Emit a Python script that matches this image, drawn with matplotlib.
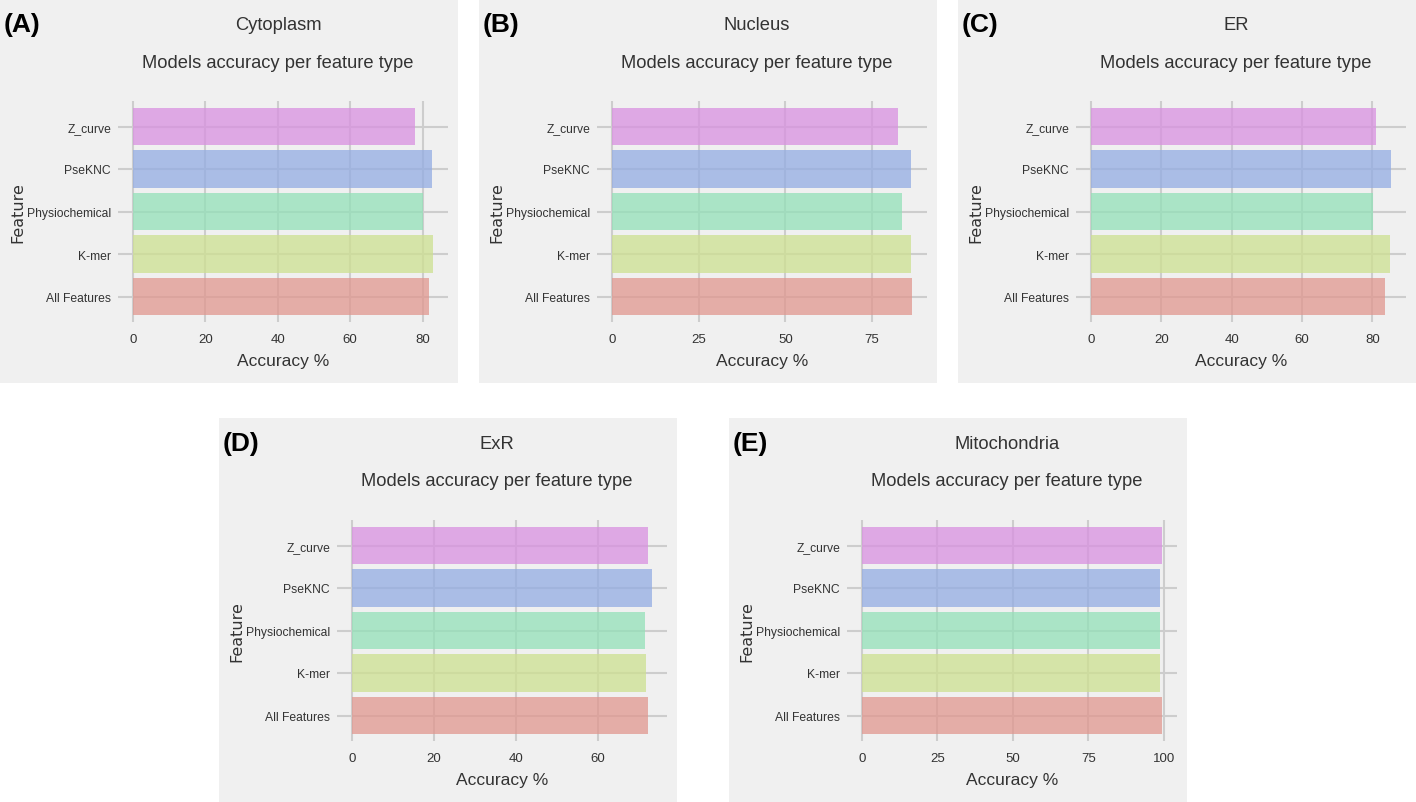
import numpy as np
import matplotlib.pyplot as plt
from matplotlib.patches import Rectangle
from matplotlib.ticker import MultipleLocator

# feature order from bottom bar to top bar
features = ['All Features', 'K-mer', 'Physiochemical', 'PseKNC', 'Z_curve']
cytoplasm = [81.8, 82.9, 80.1, 82.7, 77.9]
nucleus = [86.5, 86.2, 83.6, 86.2, 82.5]
er = [83.6, 85.0, 80.2, 85.3, 81.1]
exr = [72.3, 71.8, 71.5, 73.2, 72.3]
mito = [99.4, 98.7, 98.7, 98.7, 99.4]

titles = ['Cytoplasm', 'Nucleus', 'ER', 'ExR', 'Mitochondria']
letters = ['(A)', '(B)', '(C)', '(D)', '(E)']
tick_steps = [20, 25, 20, 20, 25]
all_values = [cytoplasm, nucleus, er, exr, mito]

W, H = 1416, 803
# panel top-left corners in pixels (origin top-left)
panels = [(0, 0), (479, 0), (958, 0), (219, 419), (729, 419)]
PW, PH = 458, 384

narrow = ['Liberation Sans', 'DejaVu Sans']
bg = '#f0f0f0'
txt = '#333333'
# base bar colours, drawn at alpha .75 over the grey background
colors = ['#e1978f', '#cde090', '#93e1b8', '#93ace3', '#d890e0']

fig = plt.figure(figsize=(W / 100, H / 100), dpi=100)
fig.patch.set_facecolor('white')


def fx(px):
    return px / W


def fy(py):
    return 1 - py / H


for k, (px, py) in enumerate(panels):
    fig.patches.append(Rectangle((fx(px), fy(py + PH)), PW / W, PH / H,
                                 transform=fig.transFigure, facecolor=bg,
                                 edgecolor='none', zorder=-5))
    l, r, t, b = px + 118, px + 448, py + 102, py + 323
    ax = fig.add_axes([fx(l), fy(b), (r - l) / W, (b - t) / H])
    ax.set_facecolor(bg)
    ax.use_sticky_edges = False
    for s in ax.spines.values():
        s.set_visible(False)
    ax.grid(True, color='#cdcdcd', linewidth=1.5, zorder=0)
    ax.set_axisbelow(True)
    y = np.arange(len(features))
    ax.barh(y, all_values[k], height=0.89, color=colors, alpha=0.75, zorder=2)
    ax.margins(x=0.05)
    ax.set_ylim(-0.6, 4.6)
    ax.set_yticks(y)
    ax.set_yticklabels(features, family=narrow, fontsize=8.7, color=txt)
    ax.xaxis.set_major_locator(MultipleLocator(tick_steps[k]))
    for lab in ax.get_xticklabels():
        lab.set_family(narrow)
        lab.set_fontsize(9.5)
        lab.set_color(txt)
    ax.tick_params(axis='y', length=0, pad=5)
    ax.tick_params(axis='x', length=0, pad=8)
    ax.set_xlabel('Accuracy %', family=narrow, fontsize=12.5, color=txt, labelpad=6)
    fig.text(fx(px + 18), fy(py + 213), 'Feature', rotation=90, fontsize=11.5,
             color=txt, ha='center', va='center')
    fig.text(fx(px + 278), fy(py + 24), titles[k], family=narrow, fontsize=13.2,
             color=txt, ha='center', va='center_baseline')
    fig.text(fx(px + 278), fy(py + 61), 'Models accuracy per feature type',
             family=narrow, fontsize=13.2, color=txt, ha='center', va='center_baseline')
    fig.text(fx(px + 4), fy(py + 25), letters[k], family=narrow, fontsize=19,
             weight='bold', color='black', ha='left', va='center')

fig.savefig('out.png', dpi=100, facecolor='white')
